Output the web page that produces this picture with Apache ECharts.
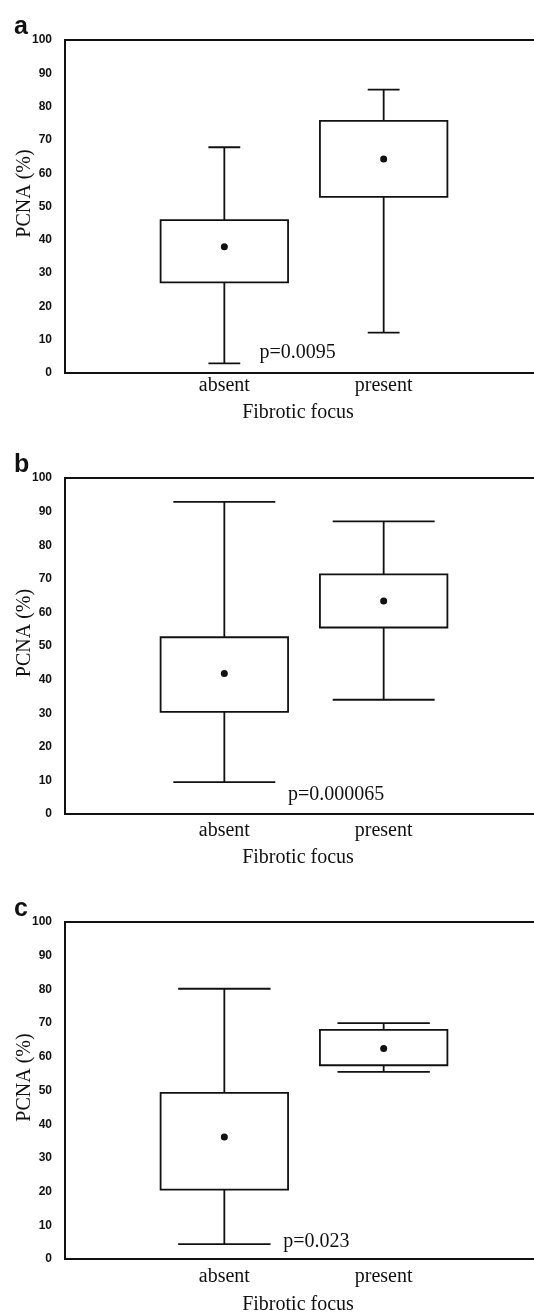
<!DOCTYPE html>
<html>
<head>
<meta charset="utf-8">
<script src="https://cdn.jsdelivr.net/npm/echarts@6/dist/echarts.min.js"></script>
<style>
  html, body { margin: 0; padding: 0; background: #fff; overflow: hidden; }
  #chart { width: 534px; height: 1312px; }
</style>
</head>
<body>
<div id="chart"></div>
<script>
// groups on the x axis (value axis: absent = 1, present = 2)
const categories = ['absent', 'present']
const groupX = [1, 2]

// panel a
const aLow = [2.9, 12.1]
const aQ1 = [27.2, 52.9]
const aQ3 = [45.9, 75.7]
const aHigh = [67.8, 85.1]
const aMean = [37.9, 64.3]

// panel b
const bLow = [9.5, 34.0]
const bQ1 = [30.4, 55.5]
const bQ3 = [52.6, 71.3]
const bHigh = [92.9, 87.1]
const bMean = [41.8, 63.4]

// panel c
const cLow = [4.4, 55.5]
const cQ1 = [20.6, 57.5]
const cQ3 = [49.3, 68.0]
const cHigh = [80.2, 70.0]
const cMean = [36.2, 62.5]

// p values and where they sit (data coords)
const pTexts = ['p=0.0095', 'p=0.000065', 'p=0.023']
const pX = [1.22, 1.40, 1.37]
const pY = [6.0, 5.7, 5.2]

const yTicks = { min: 0, max: 100, interval: 10 }

const SERIF = '"Liberation Serif", "DejaVu Serif", serif'
const SANS = '"Liberation Sans", Arial, sans-serif'
const INK = '#111'

// layout per panel
const panels = [
  { tag: 'a', top: 40, height: 333, low: aLow, q1: aQ1, q3: aQ3, high: aHigh, mean: aMean, cap: 0.1, labelGap: 3, nameGap: 30 },
  { tag: 'b', top: 478, height: 336, low: bLow, q1: bQ1, q3: bQ3, high: bHigh, mean: bMean, cap: 0.32, labelGap: 7, nameGap: 34 },
  { tag: 'c', top: 922, height: 337, low: cLow, q1: cQ1, q3: cQ3, high: cHigh, mean: cMean, cap: 0.29, labelGap: 8, nameGap: 36 }
]

function renderBox(cap) {
  return function (params, api) {
    const x = api.value(0)
    const low = api.coord([x, api.value(1)])
    const q1 = api.coord([x, api.value(2)])
    const q3 = api.coord([x, api.value(3)])
    const high = api.coord([x, api.value(4)])
    const mean = api.coord([x, api.value(5)])
    const halfBox = api.size([0.4, 0])[0]
    const halfCap = api.size([cap, 0])[0]
    const line = { stroke: INK, lineWidth: 1.8 }
    return {
      type: 'group',
      children: [
        { type: 'line', shape: { x1: high[0], y1: high[1], x2: q3[0], y2: q3[1] }, style: line },
        { type: 'line', shape: { x1: q1[0], y1: q1[1], x2: low[0], y2: low[1] }, style: line },
        { type: 'line', shape: { x1: high[0] - halfCap, y1: high[1], x2: high[0] + halfCap, y2: high[1] }, style: line },
        { type: 'line', shape: { x1: low[0] - halfCap, y1: low[1], x2: low[0] + halfCap, y2: low[1] }, style: line },
        {
          type: 'rect',
          shape: { x: q3[0] - halfBox, y: q3[1], width: halfBox * 2, height: q1[1] - q3[1] },
          style: { fill: '#fff', stroke: INK, lineWidth: 1.8 }
        },
        { type: 'circle', shape: { cx: mean[0], cy: mean[1], r: 3.5 }, style: { fill: INK } }
      ]
    }
  }
}

const option = {
  backgroundColor: '#fff',
  animation: false,
  title: panels.map(p => ({
    text: p.tag,
    left: 9,
    top: p.top - 30,
    textStyle: { fontFamily: SANS, fontSize: 25, fontWeight: 'bold', color: INK }
  })),
  grid: panels.map(p => ({
    left: 65,
    top: p.top,
    width: 478,
    height: p.height,
    outerBoundsMode: 'none',
    containLabel: false,
    show: true,
    borderColor: INK,
    borderWidth: 2
  })),
  xAxis: panels.map((p, i) => ({
    type: 'value',
    gridIndex: i,
    min: 0,
    max: 3,
    interval: 1,
    axisLine: { show: false },
    axisTick: { show: false },
    splitLine: { show: false },
    axisLabel: {
      margin: p.labelGap,
      fontFamily: SERIF,
      fontSize: 20,
      color: INK,
      formatter: v => {
        const k = groupX.indexOf(v)
        return k >= 0 ? categories[k] : ''
      }
    },
    name: 'Fibrotic focus',
    nameLocation: 'middle',
    nameGap: p.nameGap,
    nameMoveOverlap: false,
    nameTextStyle: { fontFamily: SERIF, fontSize: 20, color: INK, padding: [0, 12, 0, 0] }
  })),
  yAxis: panels.map((p, i) => ({
    type: 'value',
    gridIndex: i,
    min: yTicks.min,
    max: yTicks.max,
    interval: yTicks.interval,
    axisLine: { show: false },
    axisTick: { show: false },
    splitLine: { show: false },
    axisLabel: { margin: 13, fontFamily: SANS, fontSize: 12, fontWeight: 'bold', color: INK },
    name: 'PCNA (%)',
    nameLocation: 'middle',
    nameGap: 30,
    nameMoveOverlap: false,
    nameTextStyle: { fontFamily: SERIF, fontSize: 20, color: INK, padding: [0, 0, 0, 26] }
  })),
  series: []
}

panels.forEach((p, i) => {
  option.series.push({
    type: 'custom',
    xAxisIndex: i,
    yAxisIndex: i,
    renderItem: renderBox(p.cap),
    data: groupX.map((x, k) => [x, p.low[k], p.q1[k], p.q3[k], p.high[k], p.mean[k]]),
    encode: { x: 0, y: [1, 2, 3, 4, 5] },
    silent: true
  })
  option.series.push({
    type: 'scatter',
    xAxisIndex: i,
    yAxisIndex: i,
    symbolSize: 0,
    silent: true,
    itemStyle: { opacity: 1 },
    data: [[pX[i], pY[i]]],
    label: {
      show: true,
      position: 'right',
      distance: 0,
      formatter: pTexts[i],
      fontFamily: SERIF,
      fontSize: 20,
      color: INK
    }
  })
})

const chart = echarts.init(document.getElementById('chart'))
chart.setOption(option)
</script>
</body>
</html>
